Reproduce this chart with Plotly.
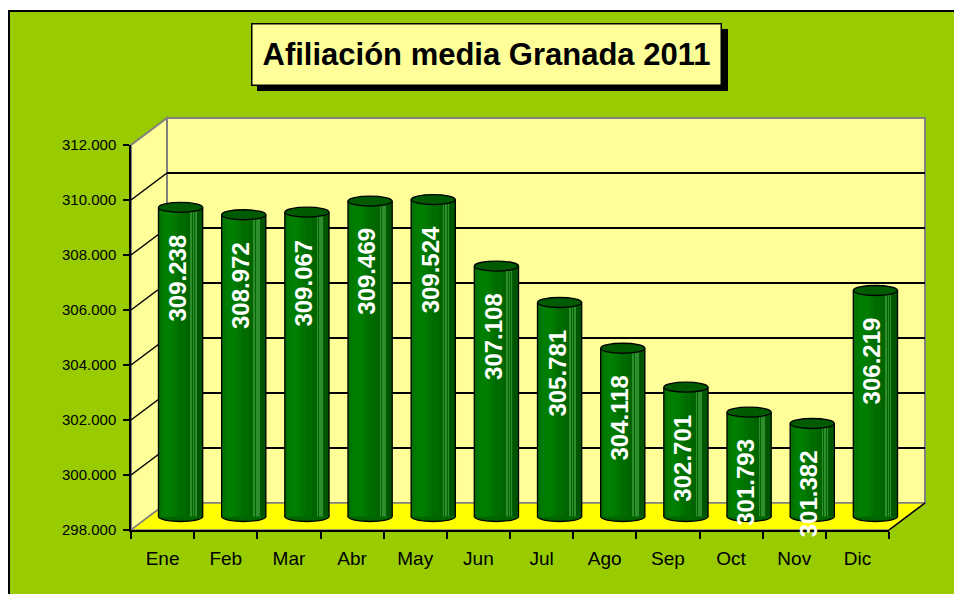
import plotly.graph_objects as go

# ---------------- data ----------------
months = ["Ene", "Feb", "Mar", "Abr", "May", "Jun", "Jul", "Ago", "Sep", "Oct", "Nov", "Dic"]
afiliacion = [309238, 308972, 309067, 309469, 309524, 307108, 305781, 304118, 302701, 301793, 301382, 306219]
value_labels = ["309.238", "308.972", "309.067", "309.469", "309.524", "307.108",
                "305.781", "304.118", "302.701", "301.793", "301.382", "306.219"]
y_tick_values = [298000, 300000, 302000, 304000, 306000, 308000, 310000, 312000]
y_tick_labels = ["298.000", "300.000", "302.000", "304.000", "306.000", "308.000", "310.000", "312.000"]
title_text = "<b>Afiliación media Granada 2011</b>"

# ---------------- geometry (pixels) ----------------
W, H = 954, 594
YMIN, YMAX = 298000, 312000
FX0, FX1, FYT, FYB = 131, 889, 145, 530      # front plane
DX, DY = 36, 27                               # depth offset of back wall
MDX, MDY = DX / 2, DY / 2                     # bars sit half-way in depth
PAD = 14                                      # room below bars for bottom ellipse
UPP = (YMAX - YMIN) / (FYB - FYT)             # data units per pixel
FONT = "Liberation Sans, Arial, sans-serif"


def fx(p):
    return p / W


def fy(p):
    return 1 - p / H


def yfront(v):
    return FYB - (v - YMIN) / UPP


GREEN_BG = "#99CC00"
WALL = "#FFFF99"
FLOOR = "#FFFF00"
EDGE = "#808080"

shapes = []
# outer green chart area with black border
shapes.append(dict(type="rect", xref="paper", yref="paper", layer="below",
                   x0=fx(9), x1=fx(W + 20), y0=fy(H + 20), y1=fy(11),
                   fillcolor=GREEN_BG, line=dict(color="black", width=2)))
# back wall
shapes.append(dict(type="rect", xref="paper", yref="paper", layer="below",
                   x0=fx(FX0 + DX), x1=fx(FX1 + DX), y0=fy(FYB - DY), y1=fy(FYT - DY),
                   fillcolor=WALL, line=dict(color=EDGE, width=2)))
# left wall
shapes.append(dict(type="path", xref="paper", yref="paper", layer="below",
                   path=f"M {fx(FX0)},{fy(FYT)} L {fx(FX0 + DX)},{fy(FYT - DY)} "
                        f"L {fx(FX0 + DX)},{fy(FYB - DY)} L {fx(FX0)},{fy(FYB)} Z",
                   fillcolor=WALL, line=dict(color=EDGE, width=2)))
# floor
shapes.append(dict(type="path", xref="paper", yref="paper", layer="below",
                   path=f"M {fx(FX0)},{fy(FYB)} L {fx(FX0 + DX)},{fy(FYB - DY)} "
                        f"L {fx(FX1 + DX)},{fy(FYB - DY)} L {fx(FX1)},{fy(FYB)} Z",
                   fillcolor=FLOOR, line=dict(color=EDGE, width=1.5)))
# right floor edge (dark)
shapes.append(dict(type="line", xref="paper", yref="paper", layer="below",
                   x0=fx(FX1), y0=fy(FYB), x1=fx(FX1 + DX), y1=fy(FYB - DY),
                   line=dict(color="black", width=1.5)))
# diagonal gridlines on the left wall
for v in y_tick_values[1:-1]:
    yf = yfront(v)
    shapes.append(dict(type="line", xref="paper", yref="paper", layer="below",
                       x0=fx(FX0), y0=fy(yf), x1=fx(FX0 + DX), y1=fy(yf - DY),
                       line=dict(color="black", width=1.5)))

# bars: ellipses & outlines (data coords on the mid-depth axes)
BW = 0.35
EH = 5 * UPP
BAR = "#006400"
for i, v in enumerate(afiliacion):
    shapes.append(dict(type="circle", xref="x3", yref="y3", layer="below",
                       x0=i - BW, x1=i + BW, y0=YMIN - EH, y1=YMIN + EH,
                       fillcolor=BAR, line=dict(color="black", width=1.3)))
    for side in (-BW, BW):
        shapes.append(dict(type="line", xref="x3", yref="y3", layer="above",
                           x0=i + side, x1=i + side, y0=YMIN, y1=v,
                           line=dict(color="black", width=1.3)))
    shapes.append(dict(type="circle", xref="x3", yref="y3", layer="above",
                       x0=i - BW, x1=i + BW, y0=v - EH, y1=v + EH,
                       fillcolor="#005A00", line=dict(color="black", width=1.3)))

# title shadow
shapes.append(dict(type="rect", xref="paper", yref="paper", layer="above",
                   x0=fx(257), x1=fx(728), y0=fy(91), y1=fy(29),
                   fillcolor="black", line=dict(width=0)))

fig = go.Figure()

# front axes carrier (invisible)
fig.add_trace(go.Scatter(x=months, y=afiliacion, mode="markers", marker=dict(size=1, opacity=0),
                         hoverinfo="skip", showlegend=False, xaxis="x", yaxis="y"))
# back wall axes carrier (for gridlines)
fig.add_trace(go.Scatter(x=months, y=afiliacion, mode="markers", marker=dict(size=1, opacity=0),
                         hoverinfo="skip", showlegend=False, xaxis="x2", yaxis="y2"))

heights = [v - YMIN for v in afiliacion]
bar_layers = [
    (BAR, 2 * BW, -BW),
    ("#007200", 0.32, -0.34),
    ("#007A00", 0.22, -0.30),
    ("#007E00", 0.12, -0.26),
    ("#006C00", 0.10, -0.02),
    ("#005600", 0.09, 0.26),
    ("#2E8E2E", 0.010, 0.16),
    ("#2E8E2E", 0.010, 0.20),
    ("#2E8E2E", 0.010, 0.235),
]
for color, w, off in bar_layers:
    fig.add_trace(go.Bar(x=months, y=heights, base=YMIN, width=w, offset=off,
                         marker=dict(color=color, line=dict(width=0)),
                         hoverinfo="skip", showlegend=False, xaxis="x3", yaxis="y3"))

annotations = []
for i, (v, t) in enumerate(zip(afiliacion, value_labels)):
    annotations.append(dict(x=i, y=v, xref="x3", yref="y3", text=f"<b>{t}</b>",
                            showarrow=False, textangle=-90, xanchor="center", yanchor="top",
                            xshift=-3, yshift=-25,
                            font=dict(family=FONT, size=24, color="white")))
annotations.append(dict(x=fx(486.5), y=fy(54), xref="paper", yref="paper", text=title_text,
                        showarrow=False, xanchor="center", yanchor="middle",
                        bgcolor=WALL, bordercolor="black", borderwidth=1.5, borderpad=4,
                        width=460, height=52,
                        font=dict(family=FONT, size=31, color="black")))

mid_bottom = FYB - MDY + PAD
fig.update_layout(
    width=W, height=H,
    autosize=False,
    margin=dict(l=0, r=0, t=0, b=0, pad=0, autoexpand=False),
    paper_bgcolor="white",
    plot_bgcolor="rgba(0,0,0,0)",
    barmode="overlay",
    showlegend=False,
    shapes=shapes,
    annotations=annotations,
    font=dict(family=FONT, color="black"),
    xaxis=dict(domain=[fx(FX0), fx(FX1)], anchor="y", type="category", automargin=False,
               categoryorder="array", categoryarray=months, range=[-0.5, 11.5],
               showgrid=False, zeroline=False, showline=True, linecolor="black", linewidth=1.5,
               ticks="outside", tickson="boundaries", ticklen=7, tickwidth=1.5, tickcolor="black",
               ticklabelstandoff=10,
               tickfont=dict(size=19, family=FONT, color="black"), fixedrange=True),
    yaxis=dict(domain=[fy(FYB), fy(FYT)], anchor="x", range=[YMIN, YMAX], automargin=False,
               tickvals=y_tick_values, ticktext=y_tick_labels,
               showgrid=False, zeroline=False, showline=True, linecolor="black", linewidth=1.5,
               ticks="outside", ticklen=6, tickwidth=1.5, tickcolor="black",
               ticklabelstandoff=4,
               tickfont=dict(size=15, family=FONT, color="black"), fixedrange=True),
    xaxis2=dict(domain=[fx(FX0 + DX), fx(FX1 + DX)], anchor="y2", type="category",
                categoryorder="array", categoryarray=months, range=[-0.5, 11.5],
                automargin=False, visible=False, showgrid=False, fixedrange=True),
    yaxis2=dict(domain=[fy(FYB - DY), fy(FYT - DY)], anchor="x2", range=[YMIN, YMAX],
                automargin=False, tickvals=y_tick_values, showticklabels=False, ticks="",
                showgrid=True, gridcolor="black", gridwidth=1.5, zeroline=False,
                showline=False, fixedrange=True),
    xaxis3=dict(domain=[fx(FX0 + MDX), fx(FX1 + MDX)], anchor="y3", type="category",
                categoryorder="array", categoryarray=months, range=[-0.5, 11.5],
                automargin=False, visible=False, showgrid=False, fixedrange=True),
    yaxis3=dict(domain=[fy(mid_bottom), fy(FYT - MDY)], anchor="x3",
                range=[YMIN - PAD * UPP, YMAX], automargin=False, visible=False,
                showgrid=False, zeroline=False, fixedrange=True),
)

post = (
    "var de=document.documentElement, b=document.body;"
    "[de,b].forEach(function(e){e.style.margin='0';e.style.padding='0';"
    "e.style.overflow='hidden';e.style.width='954px';e.style.height='594px';});"
    "var gd=document.getElementById('{plot_id}');"
    "gd.style.position='fixed';gd.style.left='0';gd.style.top='0';"
)
fig.write_html("out.html", config={"responsive": False, "displayModeBar": False},
               post_script=post)
